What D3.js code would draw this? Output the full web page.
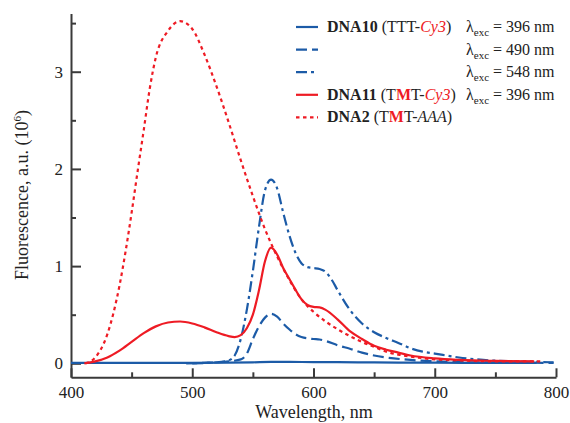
<!DOCTYPE html>
<html>
<head>
<meta charset="utf-8">
<script src="https://cdn.jsdelivr.net/npm/d3@7"></script>
<style>
  body { margin: 0; background: #fff; }
  svg text { font-family: "Liberation Serif", "DejaVu Serif", serif; fill: #222; }
</style>
</head>
<body>
<div id="chart"></div>
<script>
// wavelength (nm) and fluorescence (10^6 a.u.)
const dna10_396_x = [400, 450, 500, 530, 550, 565, 580, 600, 620, 650, 700, 750, 784];
const dna10_396_y = [0.004, 0.004, 0.005, 0.007, 0.01, 0.014, 0.014, 0.013, 0.012, 0.009, 0.006, 0.005, 0.004];

const dna10_490_x = [495, 510, 520, 530, 540, 545, 550, 555, 560, 565, 570, 575, 580, 585, 590, 600, 605, 610, 620, 630, 640, 650, 660, 680, 700, 720, 750, 798];
const dna10_490_y = [0.0, 0.005, 0.01, 0.02, 0.04, 0.10, 0.25, 0.38, 0.47, 0.51, 0.48, 0.41, 0.35, 0.30, 0.27, 0.25, 0.245, 0.23, 0.185, 0.15, 0.11, 0.08, 0.06, 0.035, 0.02, 0.012, 0.008, 0.005];

const dna10_548_x = [500, 520, 530, 535, 540, 545, 550, 555, 560, 565, 570, 575, 580, 585, 590, 595, 600, 605, 610, 615, 620, 630, 640, 650, 660, 670, 680, 690, 700, 720, 740, 760, 780, 798];
const dna10_548_y = [0.0, 0.01, 0.03, 0.08, 0.25, 0.55, 0.95, 1.40, 1.78, 1.89, 1.80, 1.55, 1.32, 1.14, 1.03, 0.99, 0.98, 0.97, 0.94, 0.86, 0.75, 0.55, 0.41, 0.32, 0.26, 0.21, 0.155, 0.12, 0.10, 0.06, 0.035, 0.022, 0.015, 0.01];

const dna11_396_x = [411, 420, 430, 440, 450, 460, 470, 480, 490, 500, 510, 520, 530, 535, 540, 545, 550, 555, 560, 565, 570, 575, 580, 585, 590, 595, 600, 605, 610, 620, 630, 640, 650, 660, 670, 680, 700, 720, 750, 782];
const dna11_396_y = [0.0, 0.02, 0.06, 0.13, 0.22, 0.31, 0.38, 0.42, 0.43, 0.41, 0.37, 0.32, 0.28, 0.27, 0.29, 0.36, 0.50, 0.75, 1.05, 1.19, 1.12, 0.98, 0.87, 0.76, 0.66, 0.60, 0.58, 0.575, 0.55, 0.45, 0.33, 0.25, 0.18, 0.14, 0.11, 0.08, 0.05, 0.035, 0.025, 0.02];

const dna2_x = [412, 420, 430, 440, 445, 450, 455, 460, 465, 470, 480, 490, 500, 510, 520, 530, 540, 550, 560, 570, 580, 590, 600, 610, 620, 630, 640, 650, 660, 670, 680, 700, 720, 750, 787];
const dna2_y = [0.0, 0.06, 0.30, 0.80, 1.15, 1.55, 1.98, 2.40, 2.83, 3.15, 3.42, 3.52, 3.44, 3.18, 2.85, 2.48, 2.09, 1.72, 1.38, 1.10, 0.86, 0.66, 0.53, 0.43, 0.35, 0.28, 0.22, 0.17, 0.12, 0.09, 0.07, 0.04, 0.03, 0.02, 0.02];

const xTicks = [400, 500, 600, 700, 800];
const xMinor = [450, 550, 650, 750];
const yTicks = [0, 1, 2, 3];
const yMinor = [0.5, 1.5, 2.5, 3.5];

const blue = "#1c5ba7";
const red = "#ee1b24";

const width = 570, height = 423;

const svg = d3.select("#chart")
  .append("svg")
  .attr("width", width)
  .attr("height", height);

const x = d3.scaleLinear().domain([400, 800]).range([71, 556]);
const y = d3.scaleLinear().domain([-0.144, 3.6]).range([377.3, 13.4]);

const axisColor = "#3a3a3a";

// bottom axis
svg.append("g")
  .attr("transform", `translate(0,${y.range()[0]})`)
  .call(d3.axisBottom(x).tickValues(xTicks).tickSize(-9).tickSizeOuter(0).tickPadding(9));
svg.append("g")
  .attr("transform", `translate(0,${y.range()[0]})`)
  .call(d3.axisBottom(x).tickValues(xMinor).tickSize(-5).tickFormat(""))
  .select(".domain").remove();

// left axis
svg.append("g")
  .attr("transform", `translate(${x.range()[0]},0)`)
  .call(d3.axisLeft(y).tickValues(yTicks).tickFormat(d3.format("d")).tickSize(-10).tickSizeOuter(0).tickPadding(8));
svg.append("g")
  .attr("transform", `translate(${x.range()[0]},0)`)
  .call(d3.axisLeft(y).tickValues(yMinor).tickSize(-5).tickFormat(""))
  .select(".domain").remove();

svg.selectAll(".domain, .tick line")
  .attr("stroke", axisColor)
  .attr("stroke-width", 2);
svg.selectAll(".tick text")
  .attr("font-family", "Liberation Serif")
  .attr("font-size", 17)
  .attr("fill", "#222");

// titles
svg.append("text")
  .attr("x", 314)
  .attr("y", 418)
  .attr("text-anchor", "middle")
  .attr("font-size", 18)
  .text("Wavelength, nm");

const yt = svg.append("text")
  .attr("transform", "translate(28,195) rotate(-90)")
  .attr("text-anchor", "middle")
  .attr("font-size", 18);
yt.append("tspan").text("Fluorescence, a.u. (10");
yt.append("tspan").attr("font-size", 11).attr("dy", -7).text("6");
yt.append("tspan").attr("dy", 7).text(")");

// curves
const series = [
  { xs: dna10_396_x, ys: dna10_396_y, color: blue, dash: null },
  { xs: dna10_490_x, ys: dna10_490_y, color: blue, dash: "11,5" },
  { xs: dna10_548_x, ys: dna10_548_y, color: blue, dash: "11,4,3,4" },
  { xs: dna2_x, ys: dna2_y, color: red, dash: "3.5,3.5" },
  { xs: dna11_396_x, ys: dna11_396_y, color: red, dash: null }
];

const line = d3.line()
  .x(d => x(d[0]))
  .y(d => y(d[1]))
  .curve(d3.curveMonotoneX);

series.forEach(s => {
  svg.append("path")
    .datum(s.xs.map((v, i) => [v, s.ys[i]]))
    .attr("fill", "none")
    .attr("stroke", s.color)
    .attr("stroke-width", 2.2)
    .attr("stroke-dasharray", s.dash)
    .attr("d", line);
});

// legend
const legRows = [
  { color: blue, dash: null, name: "DNA10", seq: ["TTT", "-", "Cy3"], lam: "396" },
  { color: blue, dash: "11,5", name: null, lam: "490" },
  { color: blue, dash: "11,4,3,4", name: null, lam: "548" },
  { color: red, dash: null, name: "DNA11", seq: ["T", "M", "T", "-", "Cy3"], lam: "396" },
  { color: red, dash: "3.5,3.5", name: "DNA2", seq: ["T", "M", "T", "-", "AAA"], lam: null }
];

const leg = svg.append("g");
legRows.forEach((r, i) => {
  const cy = 27 + i * 22.6;
  leg.append("line")
    .attr("x1", 296).attr("x2", 318)
    .attr("y1", cy).attr("y2", cy)
    .attr("stroke", r.color)
    .attr("stroke-width", 2.2)
    .attr("stroke-dasharray", r.dash);

  if (r.name) {
    const t = leg.append("text")
      .attr("x", 327)
      .attr("y", cy + 5)
      .attr("font-size", 16);
    t.append("tspan").attr("font-weight", "bold").text(r.name);
    t.append("tspan").text(" (");
    r.seq.forEach(p => {
      const ts = t.append("tspan").text(p);
      if (p === "M") ts.attr("fill", red).attr("font-weight", "bold");
      if (p === "Cy3") ts.attr("fill", red).attr("font-style", "italic");
      if (p === "AAA") ts.attr("font-style", "italic");
    });
    t.append("tspan").text(")");
  }

  if (r.lam) {
    const t = leg.append("text")
      .attr("x", 466)
      .attr("y", cy + 5)
      .attr("font-size", 16);
    t.append("tspan").text("λ");
    t.append("tspan").attr("font-size", 11).attr("dy", 4).text("exc");
    t.append("tspan").attr("dy", -4).text(" = " + r.lam + " nm");
  }
});
</script>
</body>
</html>
